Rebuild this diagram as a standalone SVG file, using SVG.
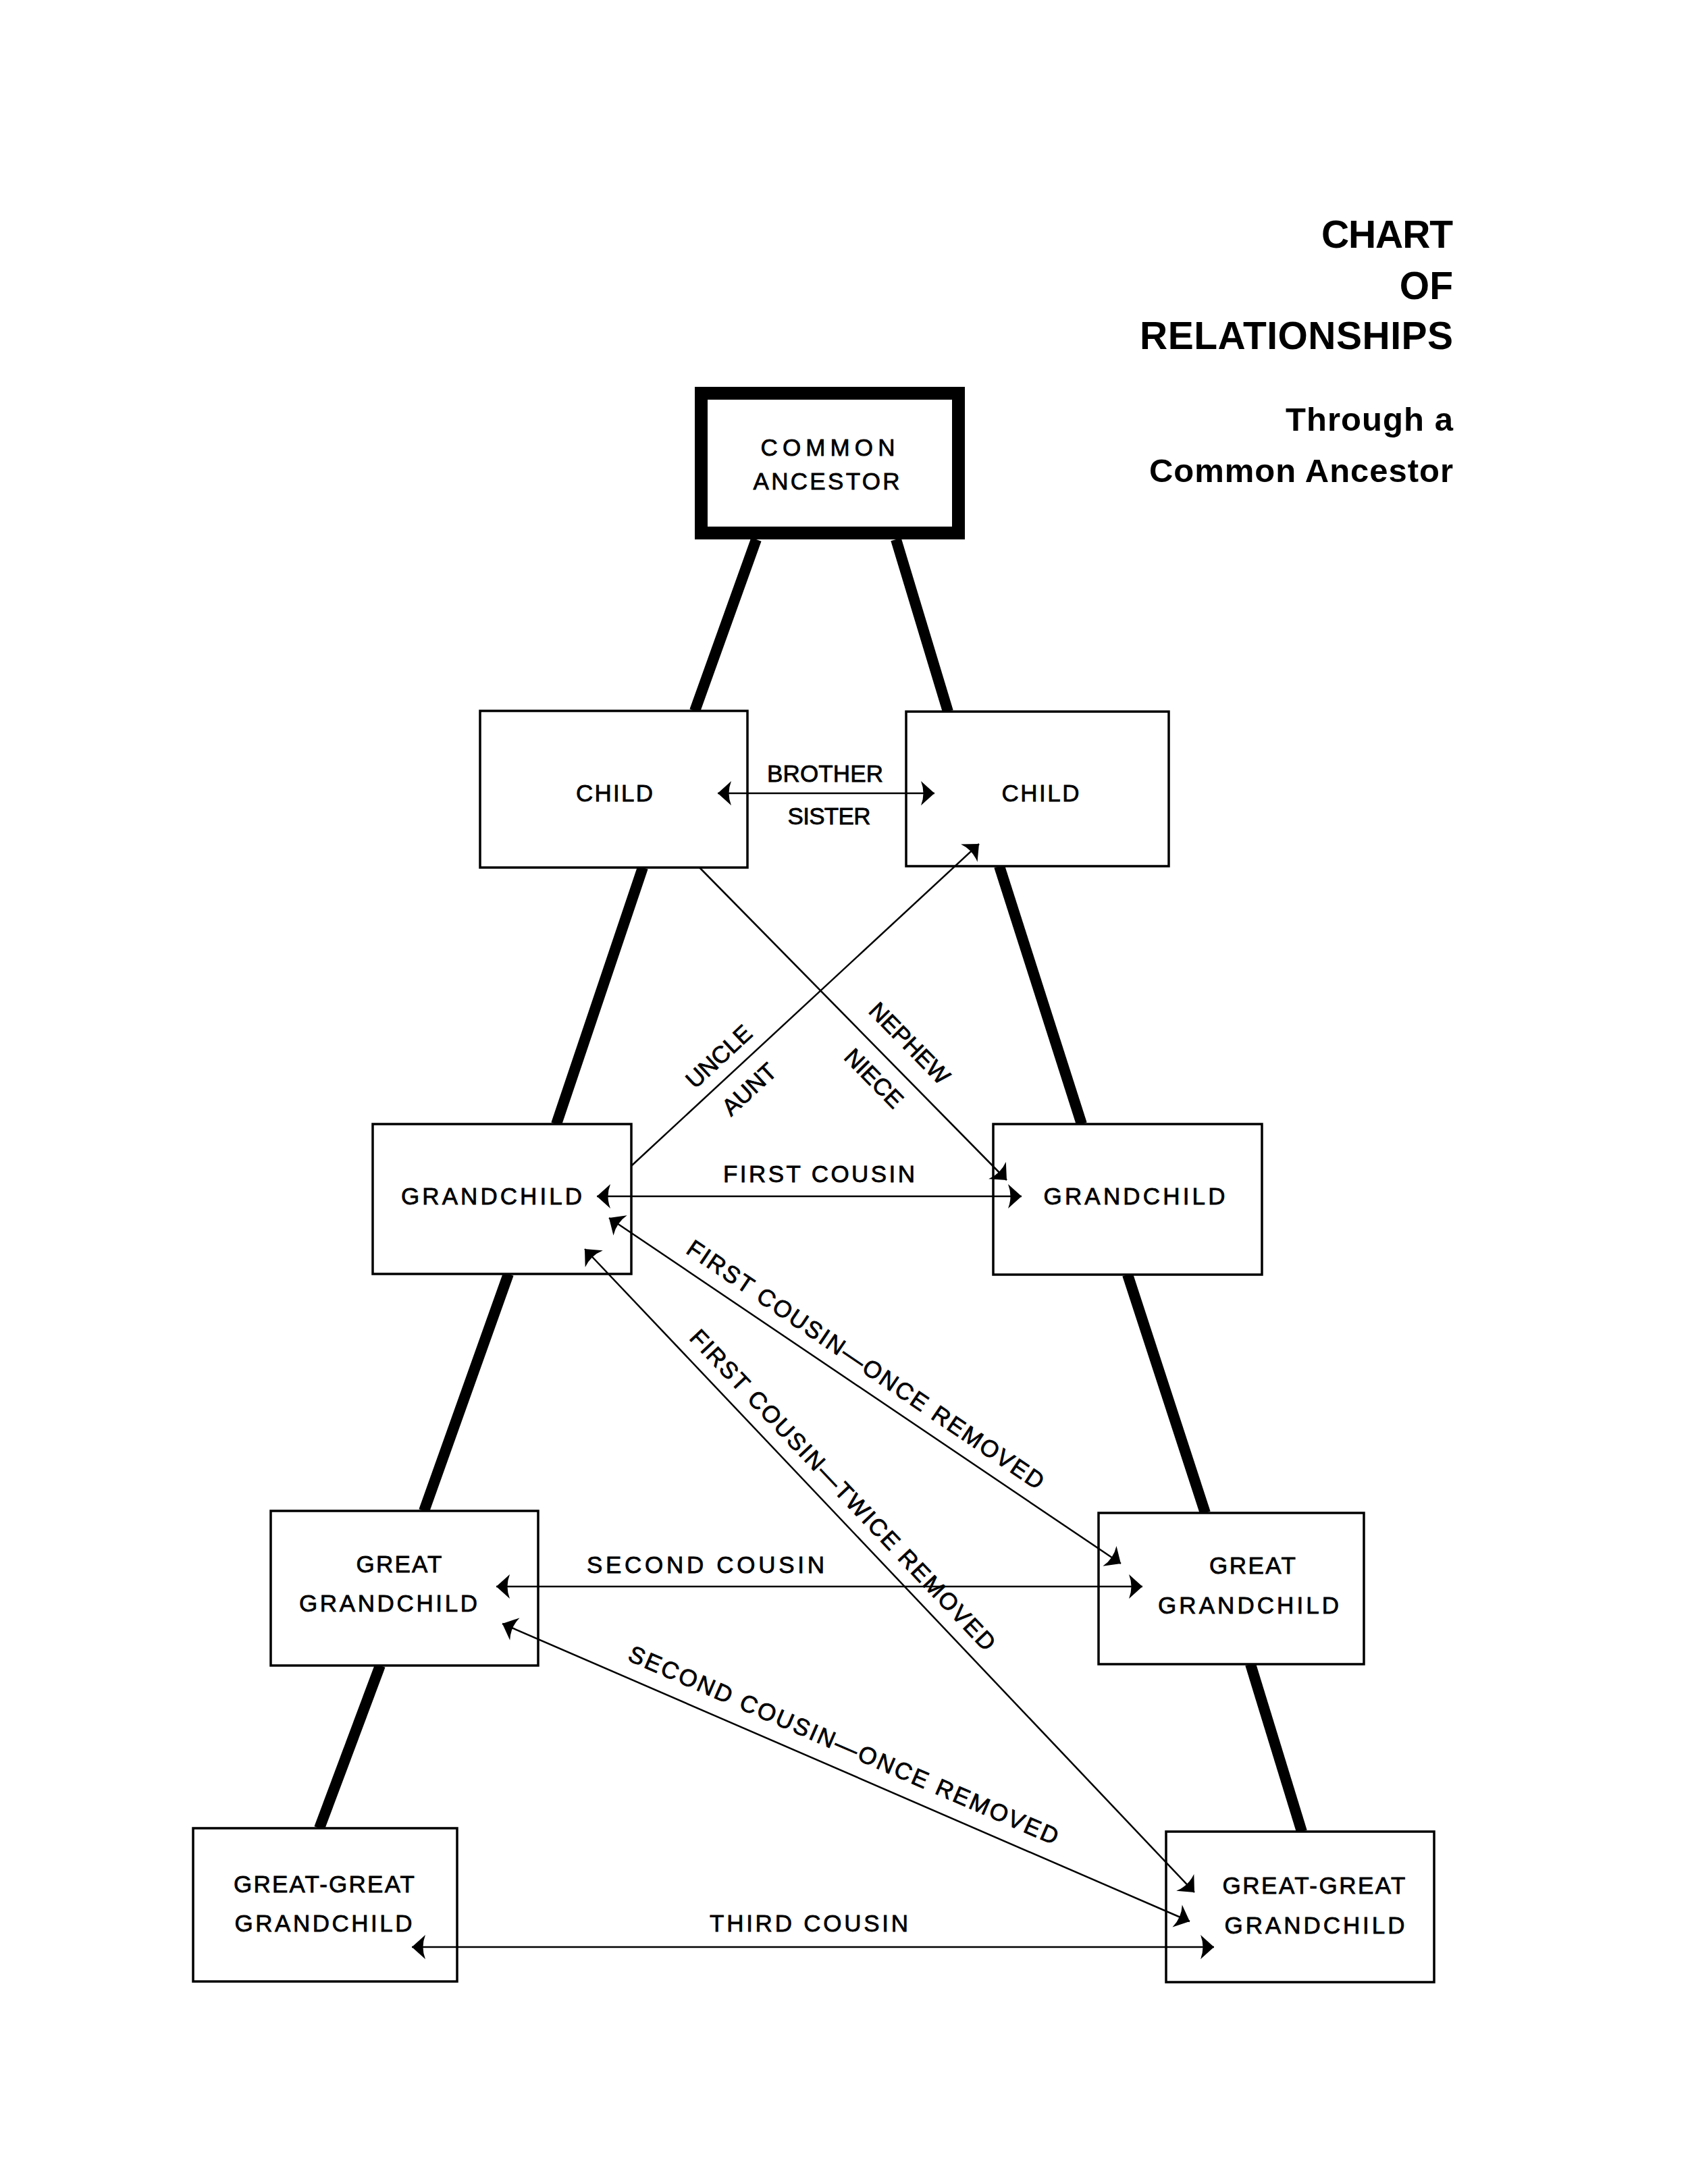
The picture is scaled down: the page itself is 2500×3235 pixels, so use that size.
<svg xmlns="http://www.w3.org/2000/svg" width="2500" height="3235" viewBox="0 0 2500 3235">
<style>
.box{fill:#fff;stroke:#000;stroke-width:3.5}
.cabox{fill:#fff;stroke:#000;stroke-width:19}
.trunk{stroke:#000;stroke-width:16;fill:none}
.rel{stroke:#000;stroke-width:2.5;fill:none}
.both{marker-start:url(#ah);marker-end:url(#ah)}
.end{marker-end:url(#ah)}
.t{font-family:"Liberation Sans",Arial,sans-serif;font-size:35px;fill:#000;stroke:#000;stroke-width:0.8;text-anchor:middle}
.ti{font-family:"Liberation Sans",Arial,sans-serif;font-weight:bold;fill:#000;text-anchor:end}
</style>
<defs>
<marker id="ah" markerUnits="userSpaceOnUse" viewBox="-24 -22 26 44" markerWidth="26" markerHeight="44" refX="0" refY="0" orient="auto-start-reverse">
<path d="M0,0 L-20,-18 Q-13,0 -20,18 Z" fill="#000"/>
</marker>
</defs>
<rect width="2500" height="3235" fill="#fff"/>

<g id="title">
<text class="ti" x="2152" y="367" font-size="57" textLength="195" lengthAdjust="spacing">CHART</text>
<text class="ti" x="2152" y="443" font-size="57">OF</text>
<text class="ti" x="2152" y="517" font-size="57" textLength="464" lengthAdjust="spacing">RELATIONSHIPS</text>
<text class="ti" x="2152" y="638" font-size="49" textLength="248" lengthAdjust="spacing">Through a</text>
<text class="ti" x="2152" y="714" font-size="49" textLength="450" lengthAdjust="spacing">Common Ancestor</text>
</g>

<g id="trunks">
<line class="trunk" x1="1120" y1="799" x2="1029" y2="1053"/>
<line class="trunk" x1="1327" y1="799" x2="1404" y2="1054"/>
<line class="trunk" x1="952" y1="1285" x2="824" y2="1665"/>
<line class="trunk" x1="1480" y1="1283" x2="1602" y2="1665"/>
<line class="trunk" x1="753" y1="1887" x2="628" y2="2238"/>
<line class="trunk" x1="1670" y1="1888" x2="1785" y2="2241"/>
<line class="trunk" x1="563" y1="2467" x2="473" y2="2708"/>
<line class="trunk" x1="1852" y1="2465" x2="1928" y2="2713"/>
</g>

<g id="common-ancestor">
<rect class="cabox" x="1038.5" y="582.5" width="381" height="207"/>
<text class="t" x="1226" y="675" textLength="199" lengthAdjust="spacing">COMMON</text>
<text class="t" x="1224" y="725" textLength="217" lengthAdjust="spacing">ANCESTOR</text>
</g>
<g id="child-left">
<rect class="box" x="711" y="1053" width="396" height="232"/>
<text class="t" x="910" y="1187" textLength="114" lengthAdjust="spacing">CHILD</text>
</g>
<g id="child-right">
<rect class="box" x="1342" y="1054" width="389" height="229"/>
<text class="t" x="1541" y="1187" textLength="115" lengthAdjust="spacing">CHILD</text>
</g>
<g id="grandchild-left">
<rect class="box" x="552" y="1665" width="383" height="222"/>
<text class="t" x="728" y="1784" textLength="268" lengthAdjust="spacing">GRANDCHILD</text>
</g>
<g id="grandchild-right">
<rect class="box" x="1471" y="1665" width="398" height="223"/>
<text class="t" x="1680" y="1784" textLength="269" lengthAdjust="spacing">GRANDCHILD</text>
</g>
<g id="great-grandchild-left">
<rect class="box" x="401" y="2238" width="396" height="229"/>
<text class="t" x="591" y="2329" textLength="127" lengthAdjust="spacing">GREAT</text>
<text class="t" x="575" y="2387" textLength="264" lengthAdjust="spacing">GRANDCHILD</text>
</g>
<g id="great-grandchild-right">
<rect class="box" x="1627" y="2241" width="393" height="224"/>
<text class="t" x="1855" y="2331" textLength="128" lengthAdjust="spacing">GREAT</text>
<text class="t" x="1849" y="2390" textLength="268" lengthAdjust="spacing">GRANDCHILD</text>
</g>
<g id="great-great-grandchild-left">
<rect class="box" x="286" y="2708" width="391" height="227"/>
<text class="t" x="480" y="2803" textLength="268" lengthAdjust="spacing">GREAT-GREAT</text>
<text class="t" x="479" y="2861" textLength="263" lengthAdjust="spacing">GRANDCHILD</text>
</g>
<g id="great-great-grandchild-right">
<rect class="box" x="1727" y="2713" width="397" height="223"/>
<text class="t" x="1946" y="2805" textLength="271" lengthAdjust="spacing">GREAT-GREAT</text>
<text class="t" x="1947" y="2864" textLength="267" lengthAdjust="spacing">GRANDCHILD</text>
</g>

<g id="connectors">
<line class="rel both" x1="1063" y1="1175" x2="1384" y2="1175"/>
<line class="rel both" x1="884" y1="1772" x2="1513" y2="1772"/>
<line class="rel both" x1="735" y1="2350" x2="1692" y2="2350"/>
<line class="rel both" x1="610" y1="2884" x2="1798" y2="2884"/>
<line class="rel end" x1="1036" y1="1285" x2="1491" y2="1748"/>
<line class="rel end" x1="935" y1="1727" x2="1450" y2="1250"/>
<line class="rel both" x1="902" y1="1804" x2="1660" y2="2316"/>
<line class="rel both" x1="866" y1="1850" x2="1769" y2="2803"/>
<line class="rel both" x1="744" y1="2405" x2="1762" y2="2846"/>
</g>

<g id="connector-labels">
<text class="t" x="1222" y="1158" textLength="172" lengthAdjust="spacing">BROTHER</text>
<text class="t" x="1228" y="1221" textLength="123" lengthAdjust="spacing">SISTER</text>
<text class="t" x="1213" y="1751" textLength="284" lengthAdjust="spacing">FIRST COUSIN</text>
<text class="t" x="1045" y="2330" textLength="352" lengthAdjust="spacing">SECOND COUSIN</text>
<text class="t" x="1198" y="2861" textLength="294" lengthAdjust="spacing">THIRD COUSIN</text>
<g transform="translate(1320,1572) rotate(45.5)">
<text class="t" x="0" y="-26">NEPHEW</text>
<text class="t" x="0" y="48">NIECE</text>
</g>
<g transform="translate(1085,1587) rotate(-42.8)">
<text class="t" x="0" y="-18">UNCLE</text>
<text class="t" x="0" y="48">AUNT</text>
</g>
<g transform="translate(1264,2048) rotate(34.04)">
<text class="t" x="0" y="-20" textLength="630" lengthAdjust="spacing">FIRST COUSIN—ONCE REMOVED</text>
</g>
<g transform="translate(1225,2229) rotate(46.54)">
<text class="t" x="0" y="-20" textLength="640" lengthAdjust="spacing">FIRST COUSIN—TWICE REMOVED</text>
</g>
<g transform="translate(1235,2618) rotate(23.42)">
<text class="t" x="0" y="-24" textLength="690" lengthAdjust="spacing">SECOND COUSIN—ONCE REMOVED</text>
</g>
</g>
</svg>
